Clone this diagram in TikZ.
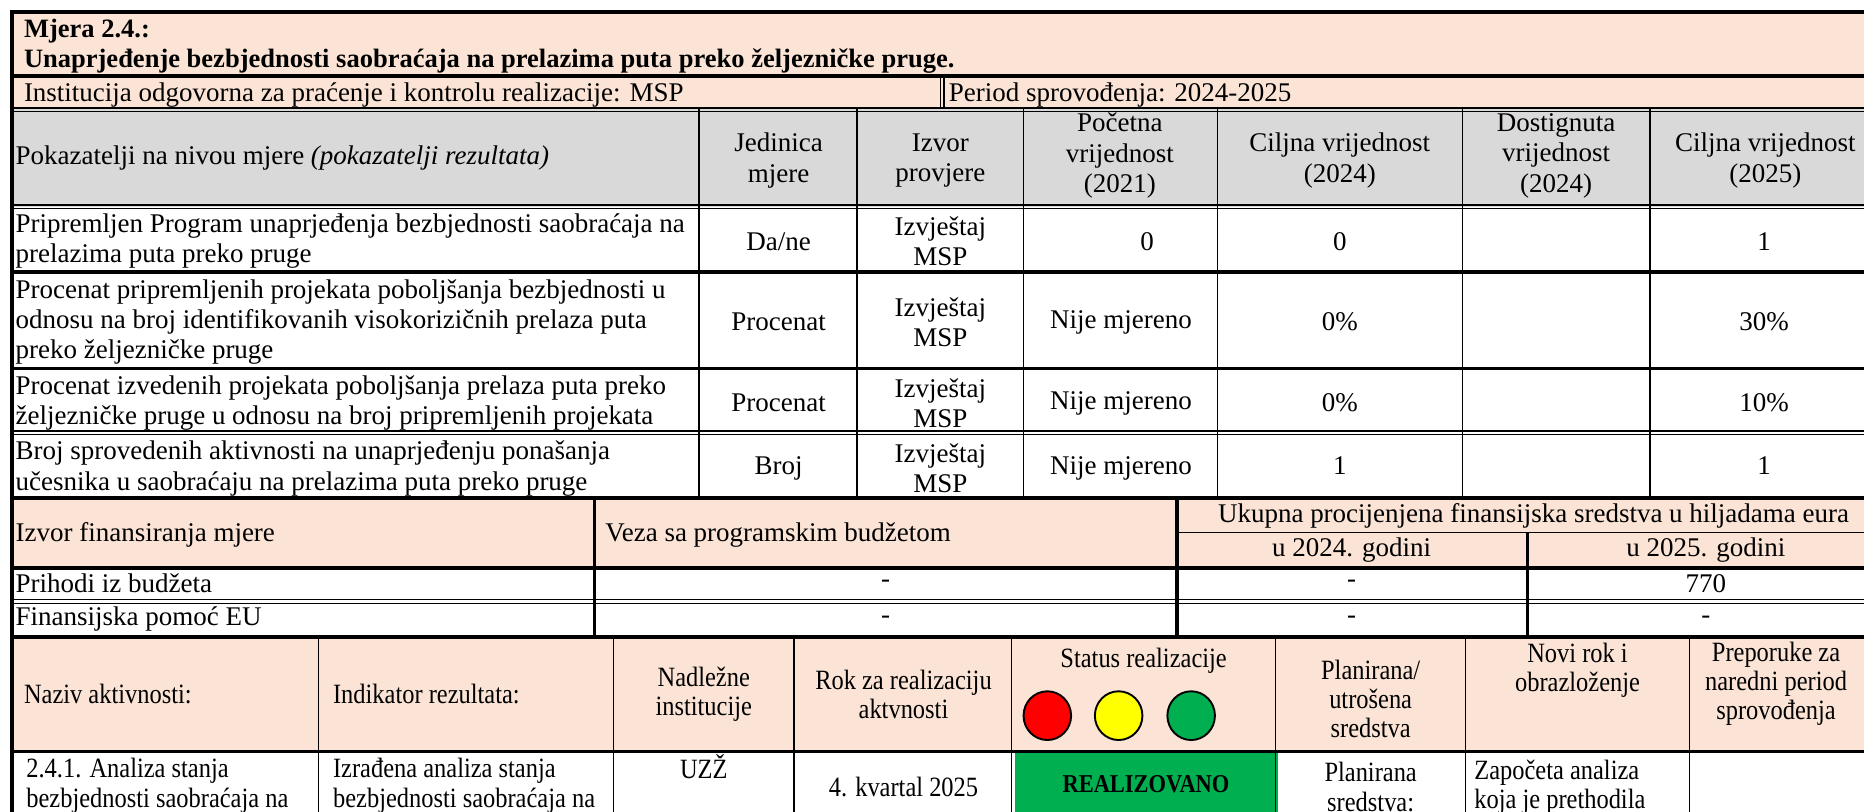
\documentclass[tikz,border=0pt]{standalone}
\usepackage{fontspec}
\setmainfont{Liberation Serif}
\newfontfamily\cond[FakeStretch=0.875]{Liberation Serif}
\usetikzlibrary{shapes.geometric}
\definecolor{peach}{HTML}{FBE4D5}
\definecolor{hgrey}{HTML}{D9D9D9}
\definecolor{sred}{HTML}{FF0000}
\definecolor{syel}{HTML}{FFFF00}
\definecolor{sgrn}{HTML}{00B050}
\tikzset{
  tx/.style={inner sep=0pt, font=\fontsize{22.7}{25.5}\selectfont},
  ltx/.style={tx, anchor=west, align=left},
  ctx/.style={tx, align=center},
  cd/.style={inner sep=0pt, font=\cond\fontsize{23.5}{24.5}\selectfont},
  lcd/.style={cd, anchor=west, align=left},
  ccd/.style={cd, align=center},
  thn/.style={line width=1.2pt},
  thk/.style={line width=3pt},
  lamp/.style={draw, line width=1.6pt, ellipse, minimum width=40pt, minimum height=41pt, inner sep=0pt},
}
\begin{document}
\begin{tikzpicture}[x=1pt,y=-1pt]
\useasboundingbox (0,0) rectangle (1568,683);
% ---------- fills
\fill[peach] (10,10) rectangle (1600,92);
\fill[hgrey] (10,92) rectangle (1600,174);
\fill[peach] (10,419) rectangle (1600,478);
\fill[peach] (10,536) rectangle (1600,632);
\fill[sgrn] (854,633) rectangle (1075,690);
% ---------- horizontal lines
\draw[thk] (10,10) -- (1600,10);
\draw[thk] (10,64) -- (1600,64);
\draw[thn] (10,91) -- (1600,91);
\draw[thn] (10,94) -- (1600,94);
\draw[thn] (10,172.5) -- (1600,172.5);
\draw[thn] (10,175.5) -- (1600,175.5);
\draw[thk] (10,229) -- (1600,229);
\draw[thk] (10,310) -- (1600,310);
\draw[thn] (10,362.5) -- (1600,362.5);
\draw[thn] (10,365.5) -- (1600,365.5);
\draw[thk] (10,419) -- (1600,419);
\draw[thn] (990,448) -- (1600,448);
\draw[thk] (10,478) -- (1600,478);
\draw[thn] (10,504.5) -- (1600,504.5);
\draw[thn] (10,507.5) -- (1600,507.5);
\draw[thk] (10,536) -- (1600,536);
\draw[thk] (10,632) -- (1600,632);
% ---------- vertical lines
\draw[thk] (10,8.5) -- (10,690);
\draw[thn] (791,64) -- (791,92);
\draw[thn] (794,64) -- (794,92);
\foreach \xx in {588,721,861,1024,1230,1388} {\draw[thn] (\xx,92) -- (\xx,419);}
\draw[thk] (500,419) -- (500,536);
\draw[thk] (990,419) -- (990,536);
\draw[thk] (1285,448) -- (1285,536);
\foreach \xx in {268,516,668,851,1073,1233,1421} {\draw[thn] (\xx,536) -- (\xx,690);}
% ---------- title block
\node[ltx, font=\bfseries\fontsize{22.3}{25.5}\selectfont] (t1) at (20,26) {Mjera 2.4.:};
\node[ltx, font=\bfseries\fontsize{22.3}{25.5}\selectfont] (t2) at (20,51) {Unaprjeđenje bezbjednosti saobraćaja na prelazima puta preko željezničke pruge.};
\node[ltx] (inst) at (20,80) {Institucija odgovorna za praćenje i kontrolu realizacije: MSP};
\node[ltx] (per) at (798,80) {Period sprovođenja: 2024-2025};
% ---------- indicator header
\node[ltx] (h1) at (13,133) {Pokazatelji na nivou mjere \textit{(pokazatelji rezultata)}};
\node[ctx] (h2) at (655,135) {Jedinica\\mjere};
\node[ctx] (h3) at (791,135) {Izvor\\provjere};
\node[ctx] (h4) at (942,131) {Početna\\vrijednost\\(2021)};
\node[ctx] (h5) at (1127,135) {Ciljna vrijednost\\(2024)};
\node[ctx] (h6) at (1309,131) {Dostignuta\\vrijednost\\(2024)};
\node[ctx] (h7) at (1485,135) {Ciljna vrijednost\\(2025)};
% ---------- row 1
\node[ltx] (r1a) at (13,203) {Pripremljen Program unaprjeđenja bezbjednosti saobraćaja na\\prelazima puta preko pruge};
\node[ctx] (r1b) at (655,203) {Da/ne};
\node[ctx] (r1c) at (791,203) {Izvještaj\\MSP};
\node[ctx] (r1d) at (965,203) {0};
\node[ctx] (r1e) at (1127,203) {0};
\node[ctx] (r1g) at (1484,203) {1};
% ---------- row 2
\node[ltx] (r2a) at (13,271) {Procenat pripremljenih projekata poboljšanja bezbjednosti u\\odnosu na broj identifikovanih visokorizičnih prelaza puta\\preko željezničke pruge};
\node[ctx] (r2b) at (655,271) {Procenat};
\node[ctx] (r2c) at (791,271) {Izvještaj\\MSP};
\node[ctx] (r2d) at (943,271) {Nije mjereno};
\node[ctx] (r2e) at (1127,271) {0\%};
\node[ctx] (r2g) at (1484,271) {30\%};
% ---------- row 3
\node[ltx] (r3a) at (13,339) {Procenat izvedenih projekata poboljšanja prelaza puta preko\\željezničke pruge u odnosu na broj pripremljenih projekata};
\node[ctx] (r3b) at (655,339) {Procenat};
\node[ctx] (r3c) at (791,339) {Izvještaj\\MSP};
\node[ctx] (r3d) at (943,339) {Nije mjereno};
\node[ctx] (r3e) at (1127,339) {0\%};
\node[ctx] (r3g) at (1484,339) {10\%};
% ---------- row 4
\node[ltx] (r4a) at (13,394) {Broj sprovedenih aktivnosti na unaprjeđenju ponašanja\\učesnika u saobraćaju na prelazima puta preko pruge};
\node[ctx] (r4b) at (655,394) {Broj};
\node[ctx] (r4c) at (791,394) {Izvještaj\\MSP};
\node[ctx] (r4d) at (943,394) {Nije mjereno};
\node[ctx] (r4e) at (1127,392) {1};
\node[ctx] (r4g) at (1484,392) {1};
% ---------- financing
\node[ltx] (f1) at (13,450) {Izvor finansiranja mjere};
\node[ltx] (f2) at (509,450) {Veza sa programskim budžetom};
\node[ctx] (f3) at (1290,434) {Ukupna procijenjena finansijska sredstva u hiljadama eura};
\node[ctx] (f4) at (1137,463) {u 2024. godini};
\node[ctx] (f5) at (1435,463) {u 2025. godini};
\node[ltx] (p1) at (13,491) {Prihodi iz budžeta};
\node[ctx] (p2) at (745,491) {-};
\node[ctx] (p3) at (1137,491) {-};
\node[ctx] (p4) at (1435,491) {770};
\node[ltx] (e1) at (13,521) {Finansijska pomoć EU};
\node[ctx] (e2) at (745,521) {-};
\node[ctx] (e3) at (1137,521) {-};
\node[ctx] (e4) at (1435,521) {-};
% ---------- activity header
\node[lcd] (a1) at (20,584) {Naziv aktivnosti:};
\node[lcd] (a2) at (280,584) {Indikator rezultata:};
\node[ccd] (a3) at (592,584) {Nadležne\\institucije};
\node[ccd] (a4) at (760,584) {Rok za realizaciju\\aktvnosti};
\node[ccd] (a5) at (962,556) {Status realizacije};
\node[lamp, fill=sred] (l1) at (881,602) {};
\node[lamp, fill=syel] (l2) at (941,602) {};
\node[lamp, fill=sgrn] (l3) at (1002,602) {};
\node[ccd] (a6) at (1153,588) {Planirana/\\utrošena\\sredstva};
\node[ccd] (a7) at (1327,564) {Novi rok i\\obrazloženje};
\node[ccd] (a8) at (1494,575) {Preporuke za\\naredni period\\sprovođenja};
% ---------- activity row
\node[lcd] (b1) at (22,661) {2.4.1. Analiza stanja\\bezbjednosti saobraćaja na};
\node[lcd] (b2) at (280,661) {Izrađena analiza stanja\\bezbjednosti saobraćaja na};
\node[ccd] (b3) at (592,645) {UZŽ};
\node[ccd] (b4) at (760,662) {4. kvartal 2025};
\node[ccd, font=\cond\bfseries\fontsize{21.6}{24}\selectfont] (b5) at (964,660) {REALIZOVANO};
\node[ccd] (b6) at (1153,662) {Planirana\\sredstva:};
\node[lcd] (b7) at (1240,662) {Započeta analiza\\koja je prethodila};
\end{tikzpicture}
\end{document}
